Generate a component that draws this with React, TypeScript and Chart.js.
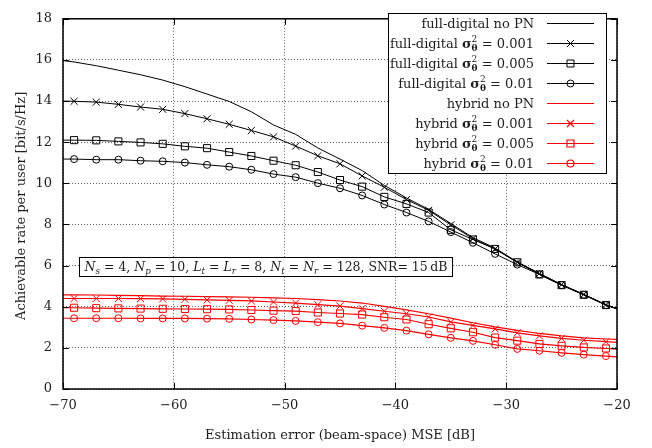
import React, { useEffect, useRef } from 'react';
import { Chart, registerables } from 'chart.js';

Chart.register(...registerables);

// x: estimation error MSE [dB]
const mseDb = [-70, -69, -67, -65, -63, -61, -59, -57, -55, -53, -51, -49, -47, -45, -43, -41, -39, -37, -35, -33, -31, -29, -27, -25, -23, -21, -20];

const fullDigitalNoPN = [15.97, 15.9, 15.72, 15.5, 15.28, 15.02, 14.7, 14.34, 13.98, 13.48, 12.84, 12.38, 11.72, 11.18, 10.62, 9.9, 9.29, 8.73, 8.05, 7.36, 6.85, 6.18, 5.62, 5.08, 4.6, 4.1, 3.9];
const fullDigital001 = [14.0, 13.99, 13.95, 13.84, 13.71, 13.6, 13.39, 13.14, 12.87, 12.57, 12.26, 11.81, 11.34, 10.95, 10.36, 9.81, 9.21, 8.69, 7.98, 7.31, 6.81, 6.16, 5.61, 5.07, 4.6, 4.1, 3.9];
const fullDigital005 = [12.1, 12.1, 12.09, 12.04, 11.99, 11.92, 11.8, 11.71, 11.52, 11.33, 11.1, 10.88, 10.55, 10.16, 9.84, 9.34, 9.0, 8.58, 7.74, 7.27, 6.81, 6.16, 5.57, 5.05, 4.58, 4.08, 3.9];
const fullDigital01 = [11.18, 11.18, 11.15, 11.15, 11.1, 11.07, 11.01, 10.9, 10.81, 10.66, 10.45, 10.3, 10.01, 9.76, 9.41, 8.97, 8.58, 8.15, 7.63, 7.11, 6.57, 6.05, 5.57, 5.05, 4.58, 4.08, 3.9];

const hybridNoPN = [4.58, 4.58, 4.57, 4.55, 4.54, 4.52, 4.51, 4.49, 4.48, 4.46, 4.43, 4.4, 4.35, 4.28, 4.18, 4.02, 3.85, 3.66, 3.45, 3.22, 3.02, 2.85, 2.7, 2.58, 2.49, 2.43, 2.41];
const hybrid001 = [4.4, 4.4, 4.4, 4.4, 4.39, 4.38, 4.36, 4.33, 4.31, 4.28, 4.23, 4.18, 4.1, 4.03, 3.91, 3.78, 3.66, 3.5, 3.26, 3.09, 2.92, 2.73, 2.58, 2.46, 2.37, 2.3, 2.27];
const hybrid005 = [3.95, 3.95, 3.93, 3.92, 3.91, 3.9, 3.89, 3.88, 3.87, 3.84, 3.81, 3.79, 3.72, 3.67, 3.62, 3.49, 3.38, 3.15, 2.95, 2.76, 2.5, 2.35, 2.19, 2.1, 2.02, 1.97, 1.94];
const hybrid01 = [3.44, 3.44, 3.44, 3.44, 3.43, 3.43, 3.43, 3.42, 3.41, 3.38, 3.35, 3.31, 3.25, 3.19, 3.08, 2.97, 2.84, 2.66, 2.49, 2.34, 2.15, 1.95, 1.86, 1.76, 1.67, 1.6, 1.56];

const xTickValues = [-70, -60, -50, -40, -30, -20];
const xTickLabels = ['\u221270', '\u221260', '\u221250', '\u221240', '\u221230', '\u221220'];
const yTickValues = [0, 2, 4, 6, 8, 10, 12, 14, 16, 18];
const yTickLabels = ['0', '2', '4', '6', '8', '10', '12', '14', '16', '18'];

const seriesNames = ['full-digital', 'full-digital', 'full-digital', 'full-digital', 'hybrid', 'hybrid', 'hybrid', 'hybrid'];
const seriesVariance = ['no PN', '0.001', '0.005', '0.01', 'no PN', '0.001', '0.005', '0.01'];
const seriesMarker = ['none', 'cross', 'square', 'circle', 'none', 'cross', 'square', 'circle'];

const xTitle = 'Estimation error (beam-space) MSE [dB]';
const yTitle = 'Achievable rate per user [bit/s/Hz]';

const FAM = "'DejaVu Serif', 'Liberation Serif', serif";
const BLACK = '#000000';
const RED = 'rgb(250,0,0)';
const TEXT = '#1e1e1e';

type Piece = { t?: string; f: string; dy?: number; sup?: string; sub?: string; f2?: string };

const reg = `13px ${FAM}`;
const small = `9px ${FAM}`;
const boldSig = `bold 13px ${FAM}`;
const boldSmall = `bold 9px ${FAM}`;

function pieceWidth(ctx: CanvasRenderingContext2D, p: Piece) {
  if (p.sup !== undefined) {
    ctx.font = p.f;
    const w1 = ctx.measureText(p.sup).width;
    ctx.font = p.f2 || p.f;
    const w2 = ctx.measureText(p.sub || '').width;
    return Math.max(w1, w2);
  }
  ctx.font = p.f;
  return ctx.measureText(p.t || '').width;
}

function piecesWidth(ctx: CanvasRenderingContext2D, ps: Piece[]) {
  return ps.reduce((s, p) => s + pieceWidth(ctx, p), 0);
}

function drawPieces(ctx: CanvasRenderingContext2D, ps: Piece[], x: number, base: number) {
  let cx = x;
  ctx.textAlign = 'left';
  ctx.textBaseline = 'alphabetic';
  for (const p of ps) {
    const w = pieceWidth(ctx, p);
    if (p.sup !== undefined) {
      ctx.font = p.f;
      ctx.fillText(p.sup, cx, base - 5.5);
      ctx.font = p.f2 || p.f;
      ctx.fillText(p.sub || '', cx, base + 3.5);
    } else {
      ctx.font = p.f;
      ctx.fillText(p.t || '', cx, base + (p.dy || 0));
    }
    cx += w;
  }
}

function annotationPieces(size: number): Piece[] {
  const r = `${size}px ${FAM}`;
  const it = `italic ${size}px ${FAM}`;
  const si = `italic ${Math.round(size * 0.7 * 10) / 10}px ${FAM}`;
  const d = size * 0.23;
  return [
    { t: 'N', f: it }, { t: 's', f: si, dy: d }, { t: ' = 4, ', f: r },
    { t: 'N', f: it }, { t: 'p', f: si, dy: d }, { t: ' = 10, ', f: r },
    { t: 'L', f: it }, { t: 't', f: si, dy: d }, { t: ' = ', f: r },
    { t: 'L', f: it }, { t: 'r', f: si, dy: d }, { t: ' = 8, ', f: r },
    { t: 'N', f: it }, { t: 't', f: si, dy: d }, { t: ' = ', f: r },
    { t: 'N', f: it }, { t: 'r', f: si, dy: d }, { t: ' = 128, SNR= 15\u2009dB', f: r },
  ];
}

function drawMarker(ctx: CanvasRenderingContext2D, kind: string, x: number, y: number) {
  ctx.beginPath();
  if (kind === 'cross') {
    const r = 3.5;
    ctx.moveTo(x - r, y - r);
    ctx.lineTo(x + r, y + r);
    ctx.moveTo(x - r, y + r);
    ctx.lineTo(x + r, y - r);
  } else if (kind === 'square') {
    ctx.rect(x - 3.5, y - 3.5, 7, 7);
  } else if (kind === 'circle') {
    ctx.arc(x, y, 3.5, 0, Math.PI * 2);
  }
  ctx.stroke();
}

const overlayPlugin = {
  id: 'overlay',
  afterDraw(chart: any) {
    const ctx: CanvasRenderingContext2D = chart.ctx;
    const a = chart.chartArea;
    const xs = chart.scales.x;
    const ys = chart.scales.y;
    ctx.save();

    // inward ticks
    ctx.strokeStyle = BLACK;
    ctx.lineWidth = 1;
    ctx.beginPath();
    xTickValues.forEach((v) => {
      const px = Math.round(xs.getPixelForValue(v)) + 0.5;
      ctx.moveTo(px, a.bottom);
      ctx.lineTo(px, a.bottom - 6);
      ctx.moveTo(px, a.top);
      ctx.lineTo(px, a.top + 6);
    });
    yTickValues.forEach((v) => {
      const py = Math.round(ys.getPixelForValue(v)) + 0.5;
      ctx.moveTo(a.left, py);
      ctx.lineTo(a.left + 6, py);
      ctx.moveTo(a.right, py);
      ctx.lineTo(a.right - 6, py);
    });
    ctx.stroke();

    // frame
    ctx.lineWidth = 1.5;
    ctx.strokeRect(a.left, a.top, a.right - a.left, a.bottom - a.top);

    // annotation box
    const bx0 = 79, bx1 = 452, by0 = 257, by1 = 276;
    ctx.fillStyle = '#ffffff';
    ctx.fillRect(bx0, by0, bx1 - bx0, by1 - by0);
    ctx.lineWidth = 1;
    ctx.strokeStyle = BLACK;
    ctx.strokeRect(bx0 + 0.5, by0 + 0.5, bx1 - bx0, by1 - by0);
    const target = 364;
    const w13 = piecesWidth(ctx, annotationPieces(13));
    const fs = Math.min(13, Math.floor((13 * target) / w13 * 10) / 10);
    const ann = annotationPieces(fs);
    ctx.fillStyle = TEXT;
    const aw = piecesWidth(ctx, ann);
    drawPieces(ctx, ann, (bx0 + bx1) / 2 - aw / 2 + 0.5, 271);

    // legend
    const lx0 = 388, lx1 = 606, ly0 = 13, ly1 = 173;
    ctx.fillStyle = '#ffffff';
    ctx.fillRect(lx0, ly0, lx1 - lx0, ly1 - ly0);
    ctx.strokeStyle = BLACK;
    ctx.lineWidth = 1;
    ctx.strokeRect(lx0 + 0.5, ly0 + 0.5, lx1 - lx0, ly1 - ly0);
    for (let i = 0; i < 8; i++) {
      const y = 23 + i * 20;
      const ps: Piece[] =
        seriesVariance[i] === 'no PN'
          ? [{ t: `${seriesNames[i]} no PN`, f: reg }]
          : [
              { t: `${seriesNames[i]} `, f: reg },
              { t: '\u03c3', f: boldSig },
              { sup: '2', sub: '\u03b8', f: small, f2: boldSmall },
              { t: ` = ${seriesVariance[i]}`, f: reg },
            ];
      ctx.fillStyle = TEXT;
      const w = piecesWidth(ctx, ps);
      drawPieces(ctx, ps, 534 - w, y + 4.5);
      const col = i < 4 ? BLACK : RED;
      ctx.strokeStyle = col;
      ctx.lineWidth = i < 4 ? 1 : 1.2;
      ctx.beginPath();
      ctx.moveTo(547, y + 0.5);
      ctx.lineTo(594, y + 0.5);
      ctx.stroke();
      drawMarker(ctx, seriesMarker[i], 570.5, y + 0.5);
    }

    // axis titles
    ctx.fillStyle = TEXT;
    ctx.font = reg;
    ctx.textAlign = 'center';
    ctx.textBaseline = 'middle';
    ctx.fillText(xTitle, (a.left + a.right) / 2, 436);
    ctx.save();
    ctx.translate(22, (a.top + a.bottom) / 2 + 2);
    ctx.rotate(-Math.PI / 2);
    ctx.fillText(yTitle, 0, 0);
    ctx.restore();

    ctx.restore();
  },
};

function makeDataset(label: string, values: number[], color: string, marker: string) {
  const style = marker === 'cross' ? 'crossRot' : marker === 'square' ? 'rect' : 'circle';
  const r = marker === 'none' ? 0 : marker === 'circle' ? 3.5 : 5;
  return {
    label,
    data: mseDb.map((x, i) => ({ x, y: values[i] })),
    borderColor: color,
    borderWidth: color === RED ? 1.2 : 1,
    pointStyle: style,
    pointRadius: mseDb.map((x) => (x % 2 !== 0 ? r : 0)),
    pointHoverRadius: 0,
    pointBorderColor: color,
    pointBackgroundColor: 'rgba(0,0,0,0)',
    pointBorderWidth: 1,
    tension: 0,
    fill: false,
  };
}

export default function App() {
  const ref = useRef<HTMLCanvasElement | null>(null);
  useEffect(() => {
    if (!ref.current) return;
    Chart.defaults.font.family = FAM;
    Chart.defaults.font.size = 13;
    Chart.defaults.color = TEXT;
    const allSeries = [fullDigitalNoPN, fullDigital001, fullDigital005, fullDigital01, hybridNoPN, hybrid001, hybrid005, hybrid01];
    const datasets = allSeries.map((vals, i) =>
      makeDataset(`${seriesNames[i]} ${seriesVariance[i]}`, vals, i < 4 ? BLACK : RED, seriesMarker[i])
    );
    datasets.reverse();
    const chart = new Chart(ref.current, {
      type: 'line',
      data: { datasets } as any,
      options: {
        responsive: false,
        animation: false,
        events: [],
        layout: { padding: { left: 0, top: 9, right: 35, bottom: 0 } },
        plugins: { legend: { display: false }, tooltip: { enabled: false }, title: { display: false } },
        scales: {
          x: {
            type: 'linear',
            min: -70,
            max: -20,
            afterBuildTicks: (s: any) => {
              s.ticks = xTickValues.map((v) => ({ value: v }));
            },
            afterFit: (s: any) => {
              s.height = 59;
            },
            ticks: {
              padding: 9,
              maxRotation: 0,
              callback: (v: any) => xTickLabels[xTickValues.indexOf(Number(v))] ?? '',
              font: { family: FAM, size: 13 },
              color: TEXT,
            },
            grid: { color: 'rgba(40,40,40,0.75)', lineWidth: 1, drawTicks: false },
            border: { display: false, dash: [1, 2] },
          },
          y: {
            type: 'linear',
            min: 0,
            max: 18,
            afterBuildTicks: (s: any) => {
              s.ticks = yTickValues.map((v) => ({ value: v }));
            },
            afterFit: (s: any) => {
              s.width = 63;
            },
            ticks: {
              padding: 11,
              callback: (v: any) => yTickLabels[yTickValues.indexOf(Number(v))] ?? '',
              font: { family: FAM, size: 13 },
              color: TEXT,
            },
            grid: { color: 'rgba(40,40,40,0.75)', lineWidth: 1, drawTicks: false },
            border: { display: false, dash: [1, 2] },
          },
        },
      } as any,
      plugins: [overlayPlugin],
    });
    return () => chart.destroy();
  }, []);
  return (
    <div style={{ position: 'absolute', left: 0, top: 0, width: 652, height: 448, background: '#fff' }}>
      <canvas ref={ref} width={652} height={448} style={{ display: 'block' }} />
    </div>
  );
}
